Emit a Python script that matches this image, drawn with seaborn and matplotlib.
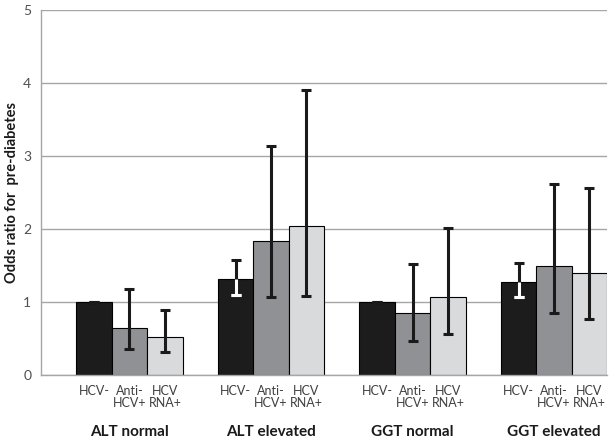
import numpy as np
import pandas as pd
import seaborn as sns
import matplotlib.pyplot as plt
from matplotlib.ticker import MultipleLocator

# Datos
grupos = ['ALT normal', 'ALT elevated', 'GGT normal', 'GGT elevated']
subgrupos = ['HCV-', 'Anti-\nHCV+', 'HCV\nRNA+']
odds = [
    [1.00, 0.64, 0.52],
    [1.31, 1.83, 2.04],
    [1.00, 0.85, 1.07],
    [1.27, 1.49, 1.39],
]
ci_bajo = [
    [1.00, 0.35, 0.31],
    [1.09, 1.07, 1.08],
    [1.00, 0.47, 0.56],
    [1.07, 0.85, 0.76],
]
ci_alto = [
    [1.00, 1.18, 0.89],
    [1.57, 3.14, 3.90],
    [1.00, 1.52, 2.02],
    [1.53, 2.62, 2.56],
]
colores = ['#1c1c1c', '#8f9194', '#d9dadc']

filas = []
for i, g in enumerate(grupos):
    for j, s in enumerate(subgrupos):
        filas.append({'grupo': g, 'sub': s, 'odds': odds[i][j],
                      'lo': ci_bajo[i][j], 'hi': ci_alto[i][j]})
df = pd.DataFrame(filas)

sns.set_style('white')
plt.rcParams['font.family'] = ['Lato', 'DejaVu Sans']

fig = plt.figure(figsize=(6.12, 4.41), dpi=100)
ax = fig.add_axes([0.067, 0.15, 0.925, 0.827])

sns.barplot(data=df, x='grupo', y='odds', hue='sub', order=grupos,
            hue_order=subgrupos, palette=colores, width=0.75, gap=0,
            edgecolor='black', linewidth=0.8, errorbar=None, legend=False,
            saturation=1, ax=ax, zorder=2)

# Barras de error (IC) a partir de la posición de cada barra
centros = {}
contenedores = list(ax.containers)
for j, cont in enumerate(contenedores):
    for i, p in enumerate(cont.patches):
        xc = p.get_x() + p.get_width() / 2
        centros[(i, j)] = xc
        v, lo, hi = odds[i][j], ci_bajo[i][j], ci_alto[i][j]
        ax.errorbar(xc, v, yerr=[[v - lo], [hi - v]], fmt='none',
                    ecolor='#1a1a1a', elinewidth=2.2, capsize=3.3,
                    capthick=2.2, zorder=3)
        # en las barras negras la parte inferior del IC va en blanco
        if j == 0 and v - lo > 0:
            ax.errorbar(xc, lo, yerr=[[0], [0]], fmt='none', ecolor='white',
                        elinewidth=2.2, capsize=3.3, capthick=2.2, zorder=4)
            ax.vlines(xc, lo, v, colors='white', linewidth=2.2, zorder=4)

ax.set_ylim(0, 5)
ax.set_xlim(-0.625, 3.375)
ax.yaxis.set_major_locator(MultipleLocator(1))
ax.grid(axis='y', color='#a6a6a6', linewidth=1, zorder=0)
ax.set_axisbelow(True)

for s in ['top', 'right']:
    ax.spines[s].set_visible(False)
for s in ['left', 'bottom']:
    ax.spines[s].set_color('#a6a6a6')
    ax.spines[s].set_linewidth(1)

# Etiquetas de subgrupos como ticks mayores, bordes de barras como menores
xs = [centros[(i, j)] for i in range(len(grupos)) for j in range(len(subgrupos))]
labs = [subgrupos[j] for i in range(len(grupos)) for j in range(len(subgrupos))]
ax.set_xticks(xs)
ax.set_xticklabels(labs, fontsize=9, color='#404040', linespacing=1.0,
                   multialignment='center')
ax.tick_params(axis='x', which='major', length=0, pad=7)
ax.set_xticks(np.arange(-0.625, 3.376, 0.25), minor=True)
ax.tick_params(axis='x', which='minor', length=4, color='#a6a6a6', width=1)
ax.tick_params(axis='y', length=4, color='#a6a6a6', labelsize=10,
               labelcolor='#505050', pad=3)

for i, g in enumerate(grupos):
    ax.text(centros[(i, 1)], -0.156, g, transform=ax.get_xaxis_transform(),
            ha='center', va='center', fontsize=11, fontweight='bold',
            color='#1a1a1a')

ax.set_xlabel('')
ax.set_ylabel('Odds ratio for  pre-diabetes', fontsize=10.5, fontweight='bold',
              color='#1a1a1a', labelpad=3)

fig.savefig('out.png', dpi=100)
